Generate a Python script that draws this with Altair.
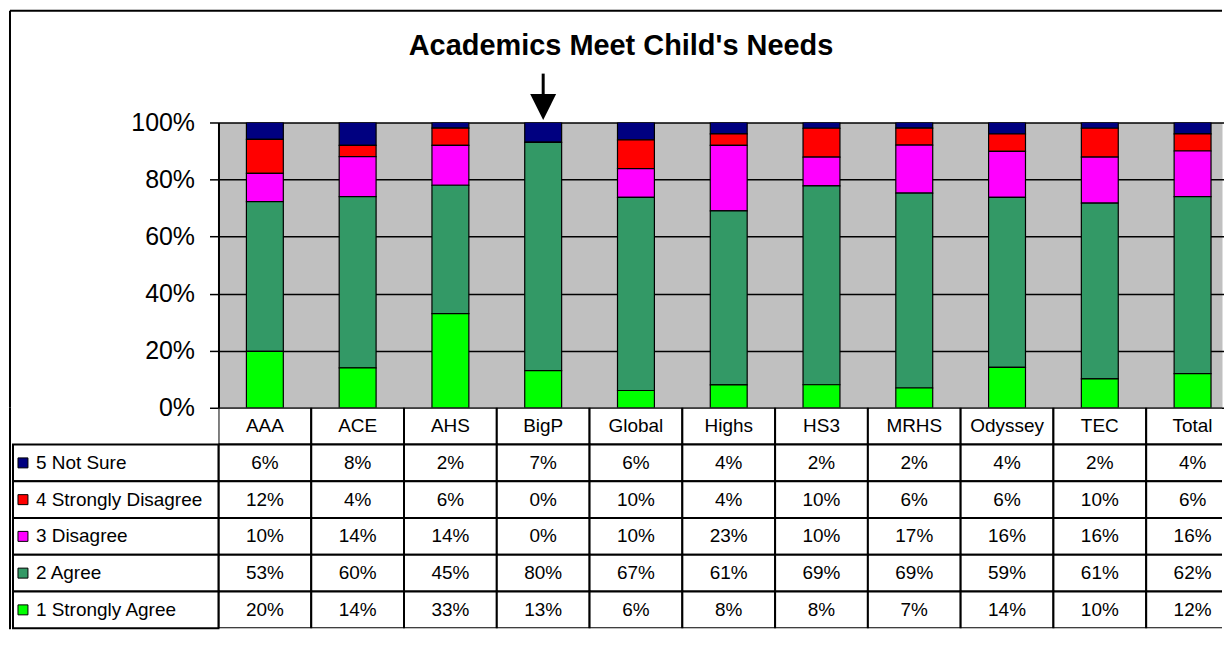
import altair as alt
import pandas as pd

# ---------------- data ----------------
schools = ["AAA", "ACE", "AHS", "BigP", "Global", "Highs", "HS3", "MRHS", "Odyssey", "TEC", "Total"]
series = ["5 Not Sure", "4 Strongly Disagree", "3 Disagree", "2 Agree", "1 Strongly Agree"]
series_colors = ["#000080", "#FF0000", "#FF00FF", "#339966", "#00FF00"]

not_sure = [6, 8, 2, 7, 6, 4, 2, 2, 4, 2, 4]
strongly_disagree = [12, 4, 6, 0, 10, 4, 10, 6, 6, 10, 6]
disagree = [10, 14, 14, 0, 10, 23, 10, 17, 16, 16, 16]
agree = [53, 60, 45, 80, 67, 61, 69, 69, 59, 61, 62]
strongly_agree = [20, 14, 33, 13, 6, 8, 8, 7, 14, 10, 12]

y_ticks = [0, 0.2, 0.4, 0.6, 0.8, 1.0]
title_text = "Academics Meet Child's Needs"
arrow_target = ["BigP"]

series_values = [not_sure, strongly_disagree, disagree, agree, strongly_agree]

rows = []
for i, (name, vals) in enumerate(zip(series, series_values)):
    for school, v in zip(schools, vals):
        rows.append({"School": school, "Series": name, "Value": v,
                     "Rank": len(series) - i, "Label": f"{v}%"})
df = pd.DataFrame(rows)

table_rows = [{"School": s, "Row": "header", "Text": s} for s in schools]
for name, vals in zip(series, series_values):
    for school, v in zip(schools, vals):
        table_rows.append({"School": school, "Row": name, "Text": f"{v}%"})
table_df = pd.DataFrame(table_rows)
legend_df = pd.DataFrame({"Row": series})
arrow_df = pd.DataFrame({"School": arrow_target})
one = pd.DataFrame({"k": [0]})

# ---------------- style ----------------
FONT = "Liberation Sans"
W = 1006          # visible plot width
XR = 1023         # 11 columns of 93 px (last one runs off the page)
H_TOP = 286
H_TAB = 221
LEFT = -209

x_scale = alt.Scale(domain=schools, range=[0, XR], paddingInner=0, paddingOuter=0)
color_scale = alt.Scale(domain=series, range=series_colors)
row_order = ["header"] + series
row_scale = alt.Scale(domain=row_order, paddingInner=0, paddingOuter=0)

X = alt.X("School:N", scale=x_scale, axis=None, sort=schools)

# ---------------- top: stacked bars ----------------
bars = alt.Chart(df).mark_bar(width=37, stroke="black", strokeWidth=1.2, clip=True).encode(
    x=X,
    y=alt.Y("Value:Q", stack="normalize", scale=alt.Scale(domain=[0, 1]),
            axis=alt.Axis(format="%", values=y_ticks, labelFontSize=25, labelFont=FONT,
                          labelColor="black", tickSize=9, tickColor="black", tickWidth=1.5,
                          domainColor="black", domainWidth=2, gridColor="black",
                          gridWidth=1.5, gridOpacity=1, title=None, labelPadding=15)),
    color=alt.Color("Series:N", scale=color_scale, legend=None),
    order=alt.Order("Rank:Q", sort="ascending"),
)

shaft = alt.Chart(arrow_df).mark_rule(color="black", strokeWidth=3).encode(
    x=X, y=alt.value(-49), y2=alt.value(-26))
head = alt.Chart(arrow_df).mark_point(shape="M-1,-1L1,-1L0,1Z", size=676, filled=True,
                                      color="black", opacity=1).encode(
    x=X, y=alt.value(-15.5))

frame_top = alt.Chart(one).mark_rule(color="black", strokeWidth=2).encode(
    x=alt.value(LEFT), x2=alt.value(W), y=alt.value(-112))
frame_left = alt.Chart(one).mark_rule(color="black", strokeWidth=2).encode(
    x=alt.value(LEFT), y=alt.value(-112), y2=alt.value(H_TOP))

top = alt.layer(bars, shaft, head, frame_top, frame_left).properties(
    width=W, height=H_TOP,
    title=alt.Title(title_text, fontSize=29, fontWeight="bold", font=FONT, color="black",
                    anchor="middle", frame="bounds", offset=0, dy=51, dx=5),
    view=alt.ViewBackground(fill="#C0C0C0", stroke="transparent"),
)

# ---------------- bottom: data table ----------------
Y = alt.Y("Row:N", scale=row_scale, axis=None, sort=row_order)

cells = alt.Chart(table_df).mark_rect(fill="white", stroke="black", strokeWidth=2, clip=True).encode(
    x=X, y=Y)
cell_text = alt.Chart(table_df).mark_text(fontSize=19, font=FONT, color="black", clip=True).encode(
    x=X, y=Y, text="Text:N")

leg_cells = alt.Chart(legend_df).mark_rect(fill="white", stroke="black", strokeWidth=2).encode(
    x=alt.value(-206), x2=alt.value(0), y=Y)
leg_sq = alt.Chart(legend_df).mark_square(size=100, stroke="black", strokeWidth=1, opacity=1).encode(
    x=alt.value(-196), y=Y, fill=alt.Fill("Row:N", scale=color_scale, legend=None))
leg_text = alt.Chart(legend_df).mark_text(align="left", fontSize=19, font=FONT, color="black").encode(
    x=alt.value(-183), y=Y, text="Row:N")
frame_left2 = alt.Chart(one).mark_rule(color="black", strokeWidth=2).encode(
    x=alt.value(LEFT), y=alt.value(0), y2=alt.value(H_TAB + 1))

bottom = alt.layer(cells, cell_text, leg_cells, leg_sq, leg_text, frame_left2).properties(
    width=W, height=H_TAB,
    view=alt.ViewBackground(stroke="transparent"),
)

chart = alt.vconcat(top, bottom, spacing=0, bounds="flush", padding=0).resolve_scale(
    x="independent", y="independent", color="independent", fill="independent"
).configure(font=FONT, background="white")

chart.save("out.html", embed_options={"renderer": "svg", "actions": False})
